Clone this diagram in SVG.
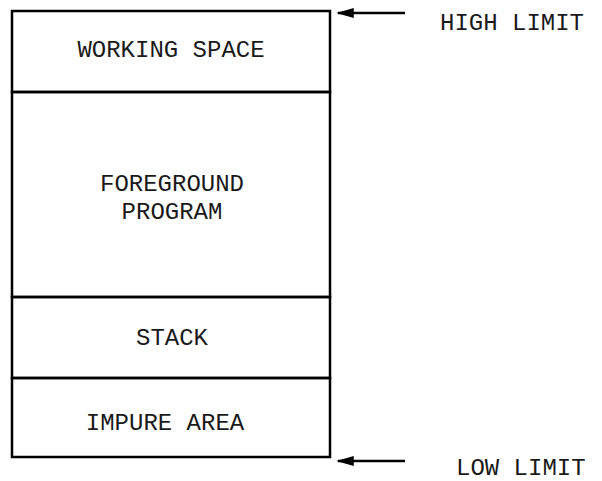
<svg xmlns="http://www.w3.org/2000/svg" width="602" height="481" viewBox="0 0 602 481">
<style>
.box{fill:none;stroke:#000;stroke-width:2.5}
.lbl{font-family:"Liberation Mono","DejaVu Sans Mono",monospace;font-size:24px;fill:#1a1a1a}
.c{text-anchor:middle}
.conn{stroke:#000;stroke-width:2.5;fill:none}
</style>
<defs>
<marker id="ah" viewBox="0 0 10 10" refX="9" refY="5" markerWidth="7" markerHeight="4" orient="auto" markerUnits="strokeWidth" preserveAspectRatio="none">
<path d="M0,0 L10,5 L0,10 Z" fill="#000"/>
</marker>
</defs>
<rect width="602" height="481" fill="#fff"/>
<g id="working-space">
<rect class="box" x="12" y="11" width="318" height="81"/>
<text class="lbl c" x="171" y="57">WORKING SPACE</text>
</g>
<g id="foreground-program">
<rect class="box" x="12" y="92" width="318" height="205"/>
<text class="lbl c" x="172" y="191">FOREGROUND</text>
<text class="lbl c" x="172" y="219">PROGRAM</text>
</g>
<g id="stack">
<rect class="box" x="12" y="297" width="318" height="81"/>
<text class="lbl c" x="172" y="345">STACK</text>
</g>
<g id="impure-area">
<rect class="box" x="12" y="378" width="318" height="79"/>
<text class="lbl c" x="165" y="430">IMPURE AREA</text>
</g>
<g id="high-limit">
<text class="lbl" x="440" y="30">HIGH LIMIT</text>
</g>
<g id="low-limit">
<text class="lbl" x="456" y="475">LOW LIMIT</text>
</g>
<g id="connectors">
<line class="conn" x1="405" y1="13" x2="338" y2="13" marker-end="url(#ah)"/>
<line class="conn" x1="405" y1="461" x2="338" y2="461" marker-end="url(#ah)"/>
</g>
</svg>
